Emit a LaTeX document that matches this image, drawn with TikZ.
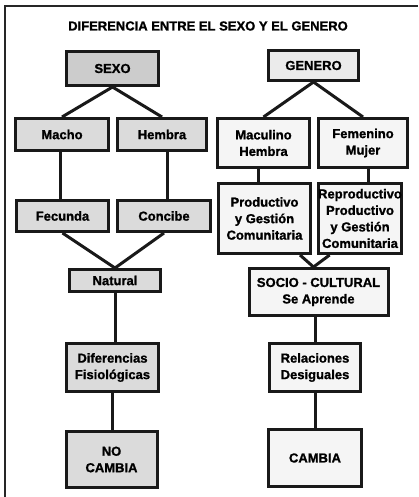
\documentclass[tikz,border=0pt]{standalone}
\usepackage{fontspec}
\setmainfont{Liberation Sans}[BoldFeatures={FakeBold=1.2}]
\usetikzlibrary{calc}
\begin{document}
\begin{tikzpicture}[x=1bp,y=-1bp,
  box/.style={draw=black!90, line width=3bp, inner sep=0pt, align=center,
    font=\fontsize{13bp}{16.5bp}\selectfont\bfseries},
  gbox/.style={box, fill=black!14},
  sbox/.style={box, fill=black!20},
  wbox/.style={box, fill=black!4},
  link/.style={line width=3bp, draw=black!90},
  frame/.style={line width=2bp, draw=black!85}]
\useasboundingbox[fill=white] (0,0) rectangle (418,497);
\coordinate (ftop) at (418,6);
\coordinate (fcorner) at (5,6);
\coordinate (fbot) at (5,497);
\draw[frame] (ftop) -- (fcorner) -- (fbot);

\node[font=\fontsize{13bp}{15bp}\selectfont\bfseries] (title) at (208,26) {DIFERENCIA ENTRE EL SEXO Y EL GENERO};

% left column
\node[sbox, minimum width=92bp, minimum height=34bp] (sexo) at (112.5,68.5) {SEXO};
\node[gbox, minimum width=93bp, minimum height=32bp] (macho) at (62,134.5) {Macho};
\node[gbox, minimum width=89bp, minimum height=32bp] (hembra) at (162,134.5) {Hembra};
\node[gbox, minimum width=92bp, minimum height=31bp] (fecunda) at (62.5,216) {Fecunda};
\node[gbox, minimum width=93bp, minimum height=31bp] (concibe) at (164,216) {Concibe};
\node[gbox, minimum width=91bp, minimum height=22bp] (natural) at (115,280.5) {Natural};
\node[gbox, minimum width=92bp, minimum height=48bp] (diferencias) at (112.5,367.5) {Diferencias\\Fisiológicas};
\node[gbox, minimum width=91bp, minimum height=56bp] (nocambia) at (111.5,459.5) {NO\\CAMBIA};

% right column
\node[box, fill=black!8, minimum width=90bp, minimum height=30bp] (genero) at (313.5,65.5) {GENERO};
\node[wbox, minimum width=92bp, minimum height=49bp] (maculino) at (263.5,143) {Maculino\\Hembra};
\node[wbox, minimum width=89bp, minimum height=49bp] (femenino) at (363,143) {Femenino\\Mujer};
\node[wbox, minimum width=92bp, minimum height=70bp] (productivo) at (264.5,218.5) {Productivo\\y Gestión\\Comunitaria};
\node[wbox, minimum width=83bp, minimum height=70bp] (reproductivo) at (360,218.5) {Reproductivo\\Productivo\\y Gestión\\Comunitaria};
\node[wbox, minimum width=139bp, minimum height=47bp] (socio) at (318.5,292) {SOCIO - CULTURAL\\Se Aprende};
\node[wbox, minimum width=91bp, minimum height=48bp] (relaciones) at (315,367.5) {Relaciones\\Desiguales};
\node[wbox, minimum width=93bp, minimum height=57bp] (cambia) at (315,458) {CAMBIA};

% helper points
\coordinate (mA) at ($(macho.south)+(-2,0)$);
\coordinate (hA) at ($(hembra.south)+(5,0)$);
\coordinate (gA) at ($(maculino.south)+(-5,0)$);
\coordinate (fA) at ($(femenino.south)+(5,0)$);
\coordinate (pA) at ($(productivo.south east)+(-12,0)$);
\coordinate (rA) at ($(reproductivo.south west)+(13,0)$);
\coordinate (sA) at ($(socio.north)+(-5,0)$);

% connectors left
\draw[link] (sexo.south) -- (macho.north);
\draw[link] (sexo.south) -- (hembra.north);
\draw[link] (mA) -- (mA |- fecunda.north);
\draw[link] (hA) -- (hA |- concibe.north);
\draw[link] (fecunda.south) -- (natural.north);
\draw[link] (concibe.south) -- (natural.north);
\draw[link] (natural.south) -- (natural.south |- diferencias.north);
\draw[link] (diferencias.south) -- (diferencias.south |- nocambia.north);

% connectors right
\draw[link] (genero.south) -- (maculino.north);
\draw[link] (genero.south) -- (femenino.north);
\draw[link] (gA) -- (gA |- productivo.north);
\draw[link] (fA) -- (fA |- reproductivo.north);
\draw[link] (pA) -- (sA);
\draw[link] (rA) -- (sA);
\draw[link] (relaciones.north |- socio.south) -- (relaciones.north);
\draw[link] (relaciones.south) -- (cambia.north);
\end{tikzpicture}
\end{document}
